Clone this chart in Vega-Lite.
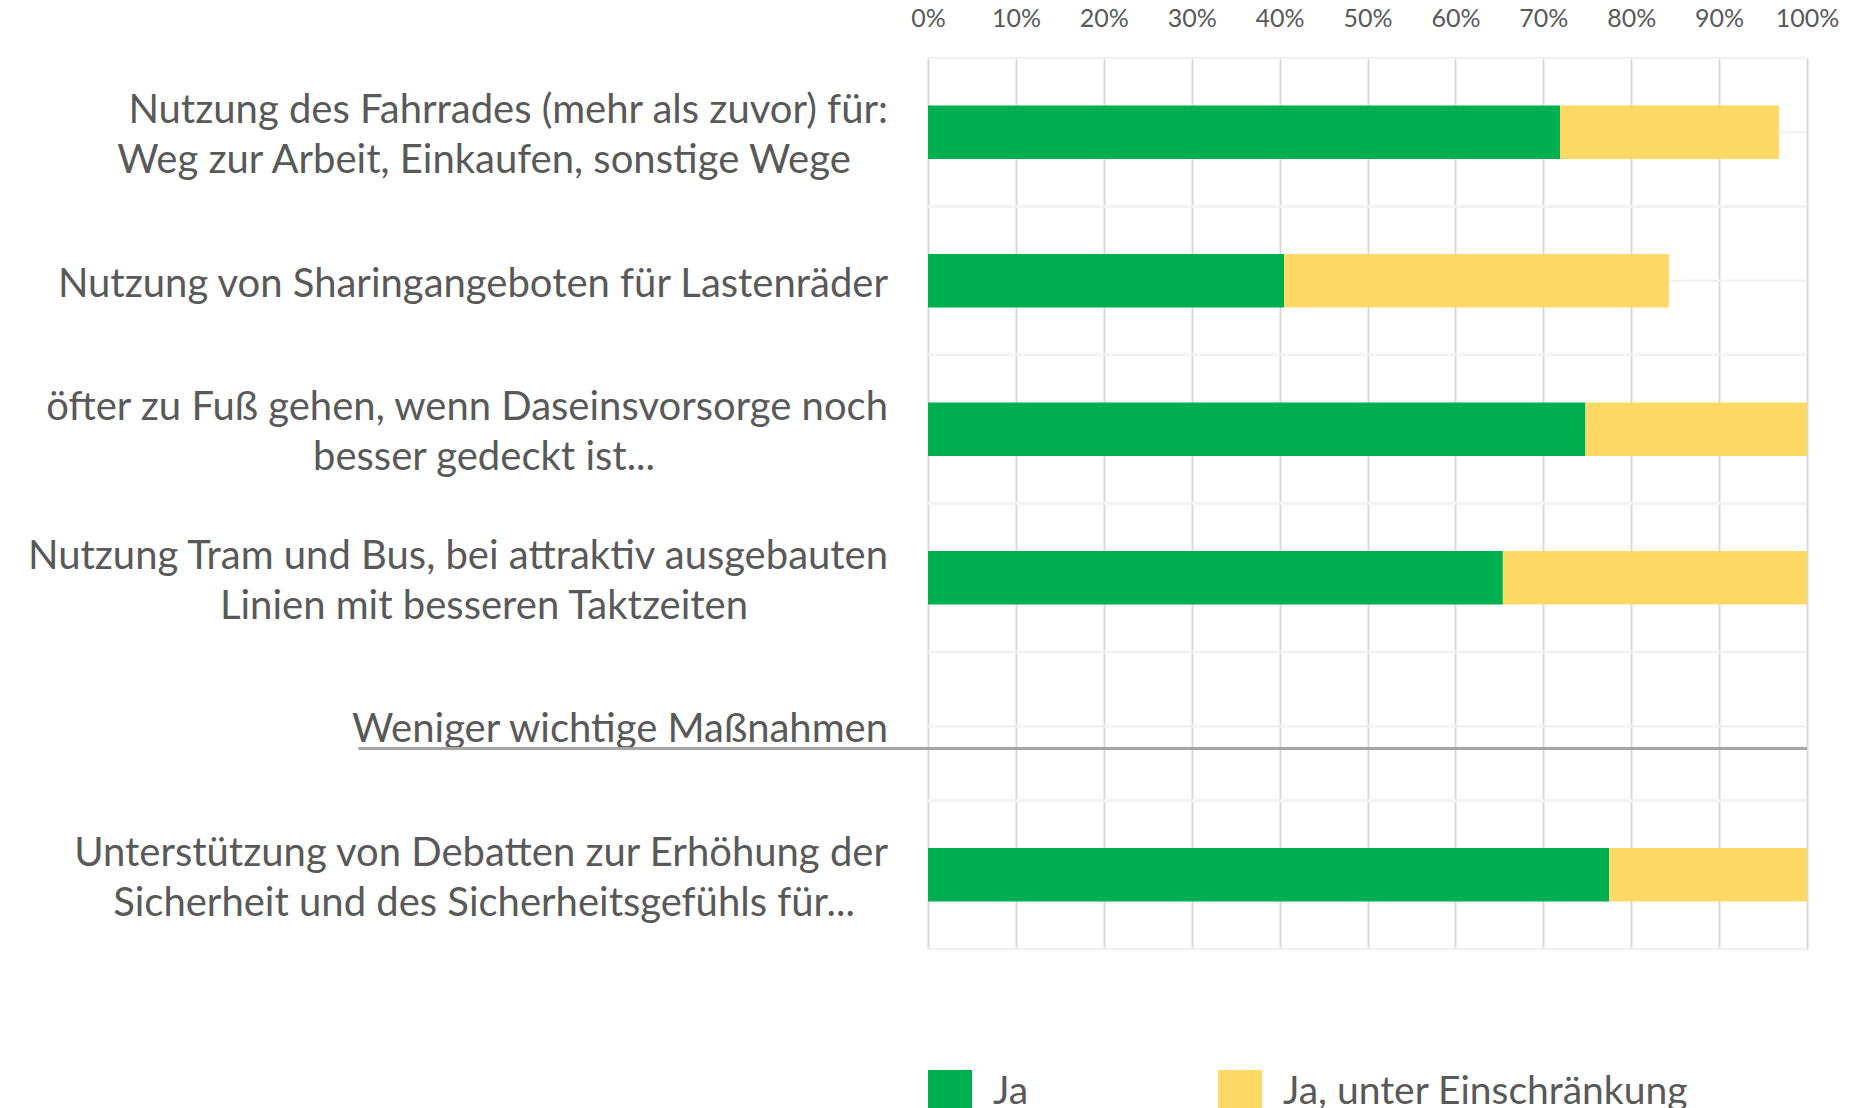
{
  "$schema": "https://vega.github.io/schema/vega-lite/v6.json",
  "width": 879,
  "height": 891,
  "autosize": "none",
  "padding": {"left": 928, "top": 58, "right": 49, "bottom": 159},
  "background": "white",
  "config": {"view": {"stroke": null}, "font": "Lato"},
  "datasets": {
    "cats": [
      {"category": "Nutzung des Fahrrades (mehr als zuvor) für:", "line2": "Weg zur Arbeit, Einkaufen, sonstige Wege"},
      {"category": "Nutzung von Sharingangeboten für Lastenräder", "line2": ""},
      {"category": "öfter zu Fuß gehen, wenn Daseinsvorsorge noch", "line2": "besser gedeckt ist..."},
      {"category": "Nutzung Tram und Bus, bei attraktiv ausgebauten", "line2": "Linien mit besseren Taktzeiten"},
      {"category": "Weniger wichtige Maßnahmen", "line2": ""},
      {"category": "Unterstützung von Debatten zur Erhöhung der", "line2": "Sicherheit und des Sicherheitsgefühls für..."}
    ],
    "bars": [
      {"category": "Nutzung des Fahrrades (mehr als zuvor) für:", "answer": "Ja", "value": 0.719},
      {"category": "Nutzung des Fahrrades (mehr als zuvor) für:", "answer": "Ja, unter Einschränkung", "value": 0.249},
      {"category": "Nutzung von Sharingangeboten für Lastenräder", "answer": "Ja", "value": 0.405},
      {"category": "Nutzung von Sharingangeboten für Lastenräder", "answer": "Ja, unter Einschränkung", "value": 0.438},
      {"category": "öfter zu Fuß gehen, wenn Daseinsvorsorge noch", "answer": "Ja", "value": 0.748},
      {"category": "öfter zu Fuß gehen, wenn Daseinsvorsorge noch", "answer": "Ja, unter Einschränkung", "value": 0.252},
      {"category": "Nutzung Tram und Bus, bei attraktiv ausgebauten", "answer": "Ja", "value": 0.654},
      {"category": "Nutzung Tram und Bus, bei attraktiv ausgebauten", "answer": "Ja, unter Einschränkung", "value": 0.346},
      {"category": "Unterstützung von Debatten zur Erhöhung der", "answer": "Ja", "value": 0.775},
      {"category": "Unterstützung von Debatten zur Erhöhung der", "answer": "Ja, unter Einschränkung", "value": 0.225}
    ]
  },
  "layer": [
    {
      "data": {"name": "cats"},
      "mark": {"type": "rule", "color": "#F2F2F2", "strokeWidth": 2.5},
      "encoding": {
        "y": {"field": "category", "type": "nominal", "bandPosition": 0,
          "scale": {"domain": [
            "Nutzung des Fahrrades (mehr als zuvor) für:",
            "Nutzung von Sharingangeboten für Lastenräder",
            "öfter zu Fuß gehen, wenn Daseinsvorsorge noch",
            "Nutzung Tram und Bus, bei attraktiv ausgebauten",
            "Weniger wichtige Maßnahmen",
            "Unterstützung von Debatten zur Erhöhung der"
          ], "paddingInner": 0, "paddingOuter": 0},
          "axis": null}
      }
    },
    {
      "data": {"name": "cats"},
      "mark": {"type": "rule", "color": "#F2F2F2", "strokeWidth": 2.5},
      "encoding": {
        "y": {"field": "category", "type": "nominal", "bandPosition": 0.5, "axis": null}
      }
    },
    {
      "data": {"name": "cats"},
      "mark": {"type": "rule", "color": "#F2F2F2", "strokeWidth": 2.5},
      "encoding": {
        "y": {"field": "category", "type": "nominal", "bandPosition": 1, "axis": null}
      }
    },
    {
      "data": {"name": "bars"},
      "mark": {"type": "bar", "height": {"band": 0.36}},
      "encoding": {
        "y": {"field": "category", "type": "nominal", "axis": null},
        "x": {"field": "value", "type": "quantitative", "stack": "zero",
          "scale": {"domain": [0, 1], "nice": false},
          "axis": {"orient": "top", "title": null, "values": [0, 0.1, 0.2, 0.3, 0.4, 0.5, 0.6, 0.7, 0.8, 0.9, 1],
            "format": ".0%", "domain": false, "ticks": false, "labelPadding": 27,
            "labelFontSize": 25, "labelColor": "#595959", "labelFont": "Lato", "labelFlush": false,
            "grid": true, "gridColor": "#D9D9D9", "gridWidth": 2}},
        "color": {"field": "answer", "type": "nominal",
          "scale": {"domain": ["Ja", "Ja, unter Einschränkung"], "range": ["#00B050", "#FFD966"]},
          "legend": {"orient": "none", "legendX": 0, "legendY": 1012, "direction": "horizontal",
            "title": null, "symbolType": "square", "symbolSize": 1936, "symbolStrokeWidth": 0,
            "labelFontSize": 39, "labelColor": "#595959", "labelFont": "Lato",
            "columnPadding": 189, "labelOffset": 21, "labelLimit": 2000, "padding": 0}}
      }
    },
    {
      "data": {"name": "cats"},
      "transform": [{"filter": "length(datum.line2) > 0"}],
      "mark": {"type": "text", "align": "right", "baseline": "middle", "dx": -40, "dy": -21,
        "fontSize": 40, "font": "Lato", "color": "#595959"},
      "encoding": {
        "y": {"field": "category", "type": "nominal", "axis": null},
        "x": {"datum": 0},
        "text": {"field": "category"}
      }
    },
    {
      "data": {"name": "cats"},
      "transform": [{"filter": "length(datum.line2) > 0"}],
      "mark": {"type": "text", "align": "center", "baseline": "middle", "dx": -444, "dy": 29,
        "fontSize": 40, "font": "Lato", "color": "#595959"},
      "encoding": {
        "y": {"field": "category", "type": "nominal", "axis": null},
        "x": {"datum": 0},
        "text": {"field": "line2"}
      }
    },
    {
      "data": {"name": "cats"},
      "transform": [{"filter": "length(datum.line2) == 0"}],
      "mark": {"type": "text", "align": "right", "baseline": "middle", "dx": -40, "dy": 4,
        "fontSize": 40, "font": "Lato", "color": "#595959"},
      "encoding": {
        "y": {"field": "category", "type": "nominal", "axis": null},
        "x": {"datum": 0},
        "text": {"field": "category"}
      }
    },
    {
      "data": {"values": [{}]},
      "mark": {"type": "rule", "color": "#A6A6A6", "strokeWidth": 3},
      "encoding": {
        "y": {"datum": "Weniger wichtige Maßnahmen", "type": "nominal", "bandPosition": 0.65, "axis": null},
        "x": {"datum": -0.648},
        "x2": {"datum": 1.0}
      }
    }
  ]
}
